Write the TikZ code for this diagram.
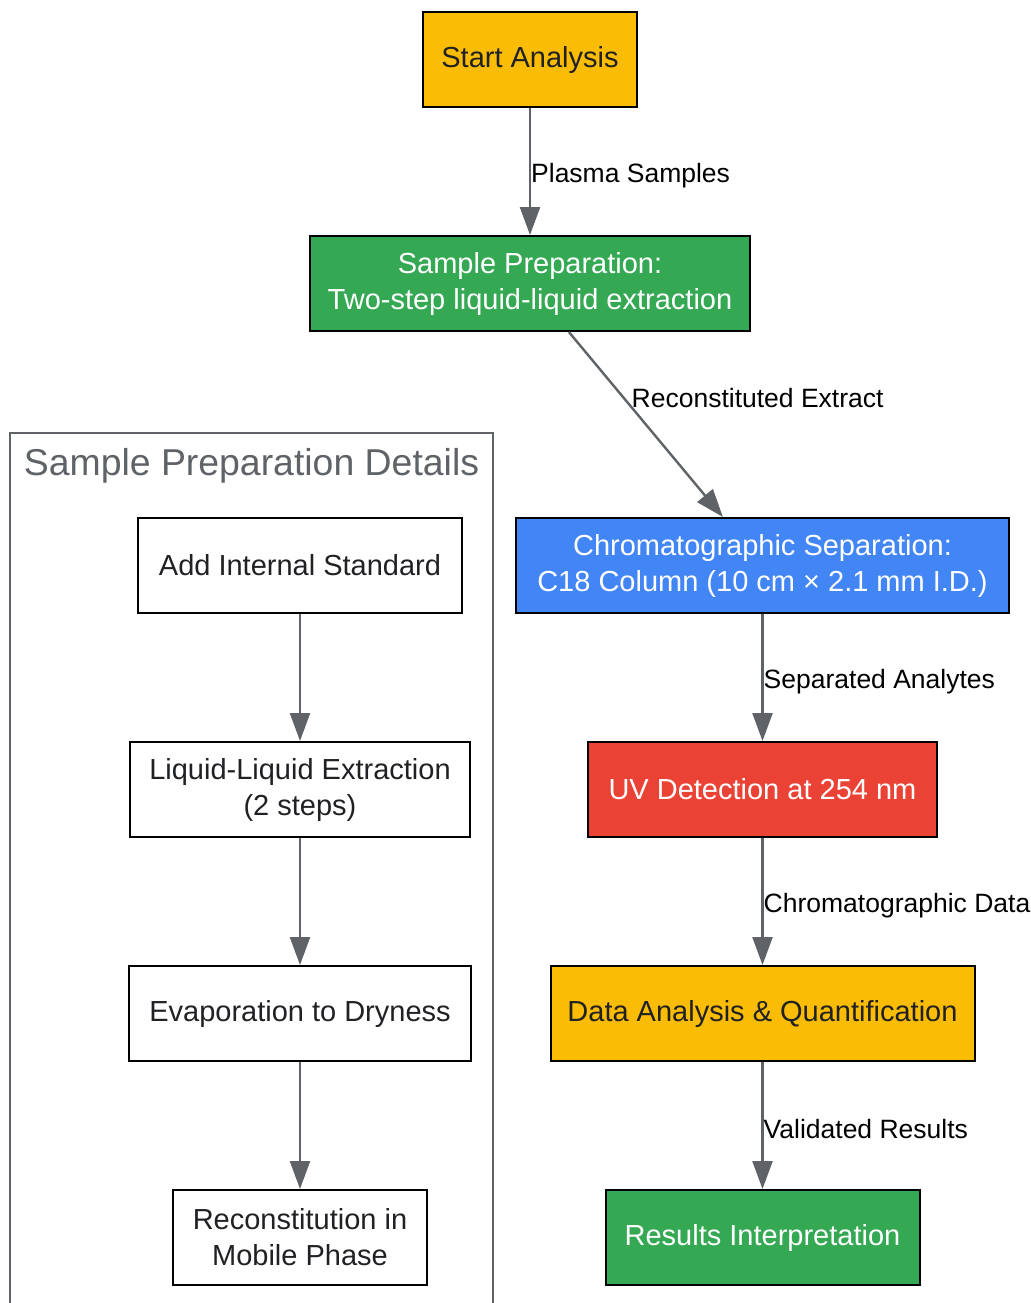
\documentclass[tikz,border=0pt]{standalone}
\usepackage{fontspec}
\setmainfont{Liberation Sans}
\usetikzlibrary{shapes,arrows.meta,positioning,calc}
\definecolor{gyellow}{HTML}{FBBC05}
\definecolor{ggreen}{HTML}{34A853}
\definecolor{gblue}{HTML}{4285F4}
\definecolor{gred}{HTML}{EA4335}
\definecolor{textdark}{HTML}{202124}
\definecolor{arrowgray}{HTML}{5F6368}

\begin{document}
\begin{tikzpicture}[x=0.5pt, y=-0.5pt, node distance=63.5pt,
	box/.style={rectangle, draw=black, line width=1pt, minimum height=47.5pt, align=center, font=\fontsize{14.5}{18}\selectfont, text=textdark},
	flow/.style={-{Triangle[length=14pt,width=10pt]}, line width=1.2pt, draw=arrowgray},
	lbl/.style={anchor=west, inner sep=0pt, yshift=-2pt, font=\fontsize{13.25}{15}\selectfont, text=black}]
				\useasboundingbox (0,0) rectangle (1030,1303);
				
				% Gruppo di sinistra
				\draw[draw=arrowgray, line width=1pt] (10,433) rectangle (493,1310);
				\node[text=arrowgray, font=\fontsize{18.7}{22}\selectfont] (gruppo) at (251.5,466) {Sample Preparation Details};
				
				% Colonna principale
				\node[box, fill=gyellow, minimum width=107pt] (start) at (530,59.5) {Start Analysis};
				\node[box, fill=ggreen, text=white, minimum width=220pt, below=of start] (prep) {Sample Preparation:\\Two-step liquid-liquid extraction};
				\node[box, fill=gblue, text=white, minimum width=246.5pt, below=92.5pt of prep, xshift=116.25pt] (chrom) {Chromatographic Separation:\\C18 Column (10 cm × 2.1 mm I.D.)};
				\node[box, fill=gred, text=white, minimum width=174.5pt, below=of chrom] (uv) {UV Detection at 254 nm};
				\node[box, fill=gyellow, minimum width=212pt, below=of uv] (dati) {Data Analysis \& Quantification};
				\node[box, fill=ggreen, text=white, minimum width=157pt, below=of dati] (risultati) {Results Interpretation};
				
				% Dettagli
				\node[box, fill=white, minimum width=162pt, left=26pt of chrom] (standard) {Add Internal Standard};
				\node[box, fill=white, minimum width=170pt, below=of standard] (lle) {Liquid-Liquid Extraction\\(2 steps)};
				\node[box, fill=white, minimum width=171pt, below=of lle] (evap) {Evaporation to Dryness};
				\node[box, fill=white, minimum width=127pt, below=of evap] (ricostit) {Reconstitution in\\Mobile Phase};
				
				\draw[flow] (start) -- node[lbl] {Plasma Samples} (prep);
				\draw[flow] ($(prep.south west)!0.588!(prep.south east)$) -- node[lbl, pos=0.335, xshift=5pt] {Reconstituted Extract} ($(chrom.north west)!0.42!(chrom.north east)$);
				\draw[flow] (chrom) -- node[lbl] {Separated Analytes} (uv);
				\draw[flow] (uv) -- node[lbl] {Chromatographic Data} (dati);
				\draw[flow] (dati) -- node[lbl] {Validated Results} (risultati);
				
				\draw[flow] (standard) -- (lle);
				\draw[flow] (lle) -- (evap);
				\draw[flow] (evap) -- (ricostit);
			\end{tikzpicture}
\end{document}
